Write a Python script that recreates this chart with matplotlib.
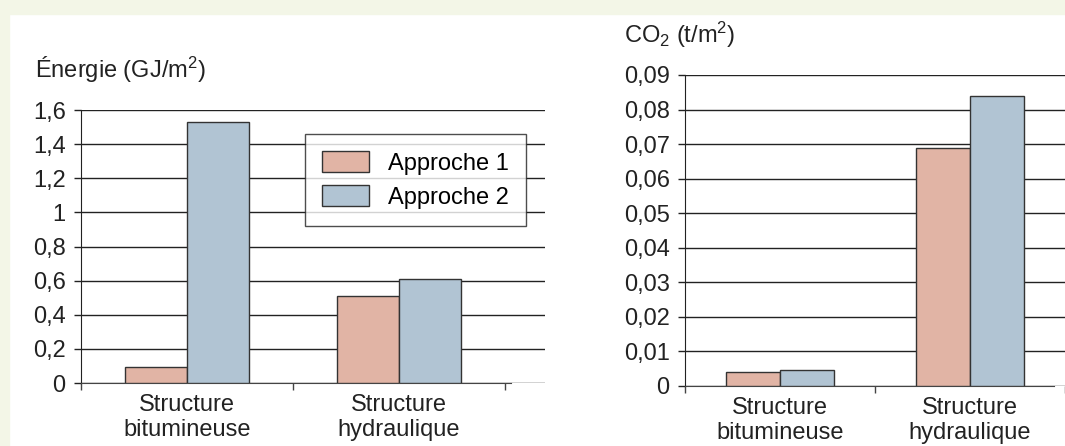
import numpy as np
import matplotlib
matplotlib.use('Agg')
import matplotlib.pyplot as plt
from matplotlib.patches import Rectangle

plt.rcParams['font.family'] = ['Liberation Sans', 'DejaVu Sans']
plt.rcParams['mathtext.fontset'] = 'custom'
plt.rcParams['mathtext.rm'] = 'Liberation Sans'
plt.rcParams['mathtext.it'] = 'Liberation Sans'

# data
categories = ['Structure\nbitumineuse', 'Structure\nhydraulique']
series = ['Approche 1', 'Approche 2']
energie_a1 = [0.095, 0.51]
energie_a2 = [1.53, 0.61]
co2_a1 = [0.004, 0.069]
co2_a2 = [0.0045, 0.084]
energie_ticks = [0, 0.2, 0.4, 0.6, 0.8, 1, 1.2, 1.4, 1.6]
energie_labels = ['0', '0,2', '0,4', '0,6', '0,8', '1', '1,2', '1,4', '1,6']
co2_ticks = [0, 0.01, 0.02, 0.03, 0.04, 0.05, 0.06, 0.07, 0.08, 0.09]
co2_labels = ['0', '0,01', '0,02', '0,03', '0,04', '0,05', '0,06', '0,07', '0,08', '0,09']

col_a1 = '#e1b4a5'
col_a2 = '#b1c4d3'
edge = '#333333'
fs = 17

W, H = 1065, 446
fig = plt.figure(figsize=(W / 100, H / 100), dpi=100)
fig.patch.set_facecolor('white')
bg = '#f3f6e7'
fig.add_artist(Rectangle((0, 1 - 14 / H), 1, 14 / H, transform=fig.transFigure, color=bg, zorder=-10))
fig.add_artist(Rectangle((0, 0), 9 / W, 1, transform=fig.transFigure, color=bg, zorder=-10))


def make_axes(l, r, b, t, ticks, labels, ymax, a1, a2, xright, bw):
    ax = fig.add_axes([l / W, 1 - b / H, (r - l) / W, (b - t) / H])
    ax.set_facecolor('none')
    x = np.arange(len(categories))
    ax.bar(x - bw / 2, a1, bw, color=col_a1, edgecolor=edge, linewidth=1, label=series[0], zorder=3)
    ax.bar(x + bw / 2, a2, bw, color=col_a2, edgecolor=edge, linewidth=1, label=series[1], zorder=3)
    ax.set_xlim(-0.5, xright)
    ax.set_ylim(0, ymax)
    ax.set_yticks(ticks)
    ax.set_yticklabels(labels, fontsize=fs, color='#222222')
    ax.yaxis.grid(True, color='#222222', linewidth=1)
    ax.set_axisbelow(True)
    for s in ['top', 'right']:
        ax.spines[s].set_visible(False)
    ax.spines['left'].set_color('#222222')
    ax.spines['bottom'].set_color('#444444')
    ax.spines['bottom'].set_bounds(-0.5, min(xright, 1.53))
    ax.tick_params(axis='y', length=5, width=1, pad=6, color='#222222')
    ax.set_xticks(x)
    ax.set_xticklabels(categories, fontsize=fs, color='#222222', linespacing=1.15)
    ax.tick_params(axis='x', which='major', length=0, pad=8)
    ax.set_xticks([-0.5, 0.5, 1.5], minor=True)
    ax.tick_params(axis='x', which='minor', length=5, width=1, color='#444444')
    return ax


ax1 = make_axes(81, 545, 383, 110, energie_ticks, energie_labels, 1.6,
                energie_a1, energie_a2, 1.69, 0.293)
ax2 = make_axes(685, 1065, 386, 75, co2_ticks, co2_labels, 0.09,
                co2_a1, co2_a2, 1.444, 0.286)

fig.text(35 / W, 1 - 70 / H, 'Énergie (GJ/m$^2$)', fontsize=fs, color='#222222', va='center')
fig.text(624 / W, 1 - 35 / H, 'CO$_2$ (t/m$^2$)', fontsize=fs, color='#222222', va='center')

leg = ax1.legend(loc='upper right', bbox_to_anchor=(526 / W, 1 - 134 / H), bbox_transform=fig.transFigure,
                 fontsize=fs, frameon=True, fancybox=False, edgecolor='#222222',
                 handlelength=2.0, handleheight=1.0, borderpad=0.72, labelspacing=0.45,
                 handletextpad=0.8, borderaxespad=0)
leg.get_frame().set_linewidth(1)
leg.set_zorder(5)

fig.savefig('out.png', dpi=100)
